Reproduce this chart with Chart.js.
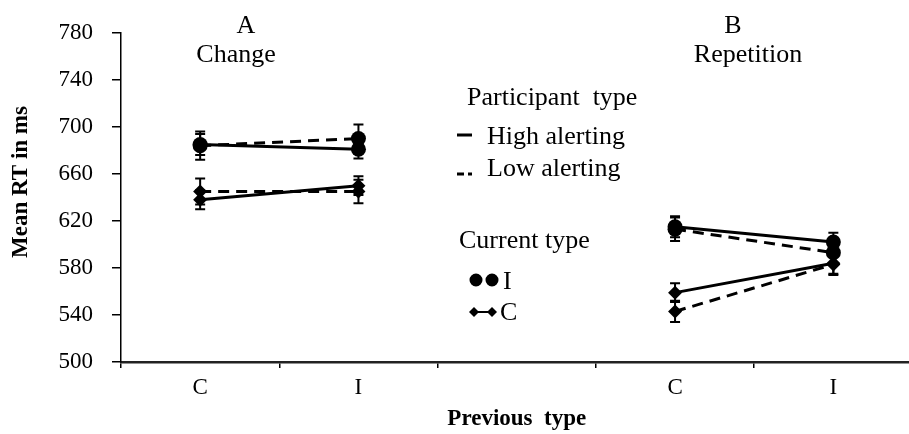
<!DOCTYPE html>
<html>
<head>
<meta charset="utf-8">
<script src="https://cdn.jsdelivr.net/npm/chart.js@4/dist/chart.umd.min.js"></script>
<style>
    html, body { margin: 0; padding: 0; background: #fff; overflow: hidden; }
    #wrap { width: 920px; height: 434px; }
</style>
</head>
<body>
<div id="wrap"><canvas id="rtChart" width="920" height="434"></canvas></div>
<script>
// Categories of the x axis (empty slot separates the two panels)
const categories = ['C', 'I', '', 'C', 'I'];

// Mean RT (ms) per series
const highCurrentI = [685, 681, null, 615, 602];
const lowCurrentI  = [684, 690, null, 613, 593];
const highCurrentC = [638, 650, null, 559, 584];
const lowCurrentC  = [645, 645, null, 543, 583];

// Error bar half-widths (ms)
const errHighI = [9, 8, null, 9, 8];
const errLowI  = [12, 12, null, 10, 9];
const errHighC = [8, 8, null, 8, 9];
const errLowC  = [11, 10, null, 9, 9];

// Axis range
const yMin = 500;
const yMax = 780;
const yStep = 40;

// Texts
const yTitle = 'Mean RT in ms';
const xTitle = 'Previous  type';
const panelLetters = ['A', 'B'];
const panelNames = ['Change', 'Repetition'];
const participantTitle = 'Participant  type';
const participantLabels = ['High alerting', 'Low alerting'];
const currentTitle = 'Current type';
const currentLabels = ['I', 'C'];

const serif = '"Liberation Serif", "Times New Roman", serif';
const errors = [errHighI, errLowI, errHighC, errLowC];

// Error bars drawn from the data through the y scale
const errorBars = {
    id: 'errorBars',
    beforeDatasetsDraw(chart) {
        const ctx = chart.ctx;
        const yScale = chart.scales.y;
        ctx.save();
        ctx.strokeStyle = '#000';
        ctx.lineWidth = 2;
        chart.data.datasets.forEach((ds, i) => {
            const meta = chart.getDatasetMeta(i);
            ds.data.forEach((v, j) => {
                if (v === null) return;
                const e = errors[i][j];
                const x = meta.data[j].x;
                const yt = yScale.getPixelForValue(v + e);
                const yb = yScale.getPixelForValue(v - e);
                ctx.beginPath();
                ctx.moveTo(x, yt); ctx.lineTo(x, yb);
                ctx.moveTo(x - 5, yt); ctx.lineTo(x + 5, yt);
                ctx.moveTo(x - 5, yb); ctx.lineTo(x + 5, yb);
                ctx.stroke();
            });
        });
        ctx.restore();
    }
};

// Y title, panel titles and the two legend groups
const annotations = {
    id: 'annotations',
    afterDraw(chart) {
        const ctx = chart.ctx;
        ctx.save();
        ctx.fillStyle = '#000';
        ctx.strokeStyle = '#000';
        ctx.textBaseline = 'middle';

        // y axis title
        ctx.save();
        ctx.translate(21, 182);
        ctx.rotate(-Math.PI / 2);
        ctx.textAlign = 'center';
        ctx.font = 'bold 23px ' + serif;
        ctx.fillText(yTitle, 0, 0);
        ctx.restore();

        ctx.font = '26px ' + serif;

        // panel labels
        ctx.textAlign = 'center';
        ctx.fillText(panelLetters[0], 246, 26);
        ctx.fillText(panelNames[0], 236, 55);
        ctx.fillText(panelLetters[1], 733, 26);
        ctx.fillText(panelNames[1], 748, 55);

        // participant type legend
        ctx.textAlign = 'left';
        ctx.fillText(participantTitle, 467, 98);
        ctx.fillText(participantLabels[0], 487, 137);
        ctx.fillText(participantLabels[1], 487, 169);
        ctx.lineWidth = 3;
        ctx.beginPath();
        ctx.moveTo(457, 135); ctx.lineTo(472, 135);
        ctx.moveTo(457, 174); ctx.lineTo(464, 174);
        ctx.moveTo(468, 174); ctx.lineTo(472, 174);
        ctx.stroke();

        // current type legend
        ctx.fillText(currentTitle, 459, 241);
        ctx.fillText(currentLabels[0], 503, 282);
        ctx.fillText(currentLabels[1], 500, 313);
        ctx.beginPath();
        ctx.arc(476, 280, 6.5, 0, Math.PI * 2);
        ctx.arc(492, 280, 6.5, 0, Math.PI * 2);
        ctx.fill();
        ctx.lineWidth = 2;
        ctx.beginPath();
        ctx.moveTo(474, 312); ctx.lineTo(492, 312);
        ctx.stroke();
        [474, 492].forEach(x => {
            ctx.beginPath();
            ctx.moveTo(x, 307); ctx.lineTo(x + 5, 312);
            ctx.lineTo(x, 317); ctx.lineTo(x - 5, 312);
            ctx.closePath();
            ctx.fill();
        });
        ctx.restore();
    }
};

function series(data, style, dashed) {
    return {
        data: data,
        borderColor: '#000',
        backgroundColor: '#000',
        borderWidth: 3,
        borderDash: dashed ? [11, 7] : [],
        pointStyle: style,
        pointRadius: style === 'circle' ? 7.5 : 7,
        pointBorderWidth: 0,
        spanGaps: false,
        tension: 0
    };
}

new Chart(document.getElementById('rtChart'), {
    type: 'line',
    data: {
        labels: categories,
        datasets: [
            series(highCurrentI, 'circle', false),
            series(lowCurrentI, 'circle', true),
            series(highCurrentC, 'rectRot', false),
            series(lowCurrentC, 'rectRot', true)
        ]
    },
    options: {
        responsive: false,
        animation: false,
        layout: { padding: { top: 19, right: 4, left: 0, bottom: 0 } },
        plugins: { legend: { display: false }, tooltip: { enabled: false } },
        scales: {
            x: {
                offset: true,
                grid: { offset: true, drawOnChartArea: false, tickLength: 6, color: '#000', lineWidth: 1.5 },
                border: { color: '#222', width: 2.5 },
                ticks: { color: '#000', padding: 6, font: { family: serif, size: 23 } },
                title: {
                    display: true, text: xTitle, color: '#000',
                    font: { family: serif, size: 23, weight: 'bold' },
                    padding: { top: 0, bottom: 1 }
                },
                afterFit: scale => { scale.height = 72; }
            },
            y: {
                min: yMin,
                max: yMax,
                grid: { drawOnChartArea: false, tickLength: 9, color: '#000', lineWidth: 1.5 },
                border: { color: '#000', width: 1.5 },
                ticks: { stepSize: yStep, color: '#000', padding: 19, font: { family: serif, size: 23 } },
                afterFit: scale => { scale.width = 121; }
            }
        }
    },
    plugins: [errorBars, annotations]
});
</script>
</body>
</html>
